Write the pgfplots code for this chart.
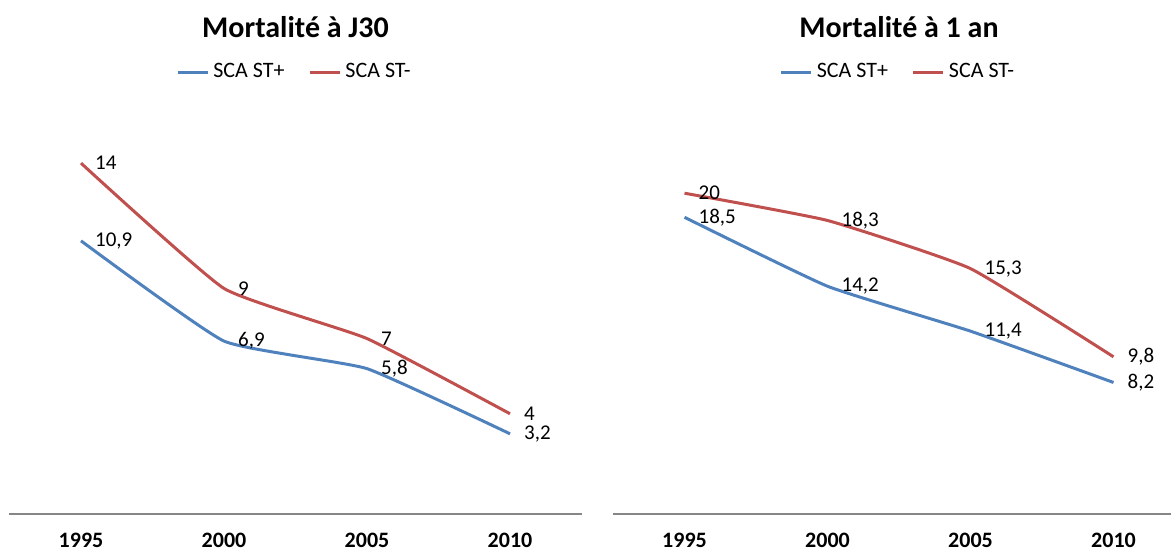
\documentclass[border=0pt]{standalone}
\usepackage{fontspec}
\setmainfont{Carlito}
\usepackage{pgfplots}
\pgfplotsset{compat=1.18}
\definecolor{stplus}{HTML}{4F81BD}
\definecolor{stminus}{HTML}{C0504D}
\definecolor{axisgray}{HTML}{868686}

\pgfplotsset{mort/.style={
    scale only axis, width=286pt, height=200.5pt,
    xmin=0.5, xmax=4.5, ymin=0,
    enlargelimits=false, clip=false,
    axis x line*=bottom, axis y line=none,
    axis line style={-, axisgray, line width=0.8pt},
    xtick={1,2,3,4}, xticklabels={1995,2000,2005,2010},
    major tick length=0pt,
    xticklabel style={font=\bfseries\fontsize{11}{13}\selectfont, yshift=-6pt},
    /pgf/number format/assume math mode=true,
    nodes near coords={\pgfmathprintnumber[use comma, assume math mode=true]{\pgfplotspointmeta}},
    nodes near coords style={anchor=west, xshift=3pt, font=\fontsize{10.5}{12}\selectfont, text=black},
    every axis plot/.append style={line width=1.5pt, smooth, tension=0.25, mark=none},
    legend columns=-1,
    legend style={draw=none, at={(0.5,1.102)}, anchor=center,
        font=\fontsize{11}{13}\selectfont,
        /tikz/every even column/.append style={column sep=10pt}},
    legend image code/.code={\draw[#1, line width=1.5pt] (0pt,0pt) -- (15pt,0pt);},
    every axis title shift=0pt,
    title style={font=\bfseries\fontsize{15}{18}\selectfont, at={(0.5,1.2145)}, anchor=center},
}}

\begin{document}
\begin{tikzpicture}
\begin{axis}[mort, ymax=16, title={Mortalité à J30}]
\addplot[stplus] coordinates {(1,10.9) (2,6.9) (3,5.8) (4,3.2)};
\addlegendentry{SCA ST+}
\addplot[stminus] coordinates {(1,14) (2,9) (3,7) (4,4)};
\addlegendentry{SCA ST-}
\end{axis}
\begin{axis}[mort, xshift=301.75pt, ymax=25, title={Mortalité à 1 an}]
\addplot[stplus] coordinates {(1,18.5) (2,14.2) (3,11.4) (4,8.2)};
\addlegendentry{SCA ST+}
\addplot[stminus] coordinates {(1,20) (2,18.3) (3,15.3) (4,9.8)};
\addlegendentry{SCA ST-}
\end{axis}
\pgfresetboundingbox
\path[use as bounding box] (-4.75pt,-19.5pt) rectangle (580.75pt,257pt);
\end{tikzpicture}
\end{document}
